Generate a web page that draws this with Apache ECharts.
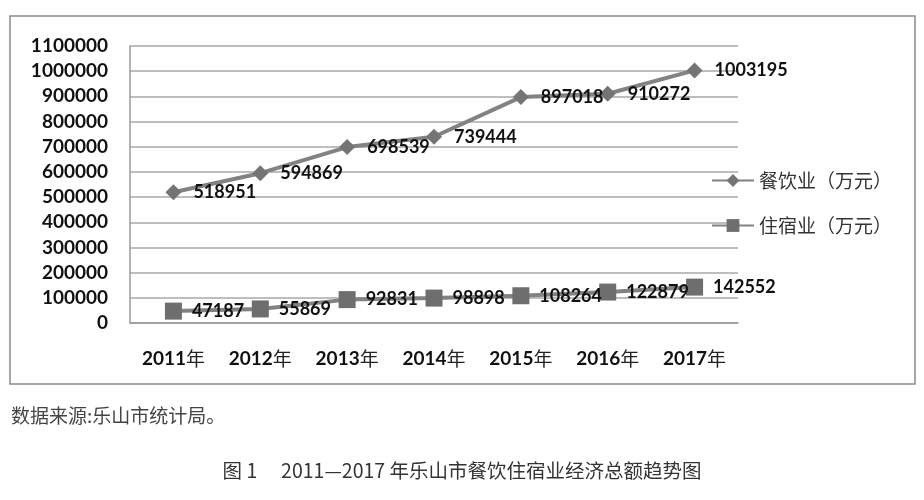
<!DOCTYPE html>
<html><head><meta charset="utf-8">
<script src="https://cdn.jsdelivr.net/npm/echarts@6/dist/echarts.min.js"></script>
<style>html,body{margin:0;padding:0;background:#fff}#c{width:924px;height:500px}</style>
</head><body><div id="c"></div>
<script>
const categories = ['2011年','2012年','2013年','2014年','2015年','2016年','2017年'];
const cateringName = '餐饮业（万元）';
const lodgingName = '住宿业（万元）';
const cateringValues = [518951, 594869, 698539, 739444, 897018, 910272, 1003195];
const lodgingValues = [47187, 55869, 92831, 98898, 108264, 122879, 142552];
const yMin = 0, yMax = 1100000, yStep = 100000;
const sourceText = '数据来源:乐山市统计局。';
const captionText = '图 1　 2011—2017 年乐山市餐饮住宿业经济总额趋势图';

const numFont = 'Lato';
const cjkFont = '"Noto Sans CJK SC"';
const chart = echarts.init(document.getElementById('c'), null, {renderer:'canvas'});
chart.setOption({
  animation:false,
  backgroundColor:'#fff',
  grid:{left:130, right:186, top:46, bottom:177, containLabel:false},
  xAxis:{type:'category', data:categories, boundaryGap:true,
    axisLine:{show:true, lineStyle:{color:'#9a9a9a', width:1.5}},
    axisTick:{show:false},
    axisLabel:{interval:0, margin:26, formatter:v=>'{n|'+v.replace('年','')+'}{c|年}',
      rich:{n:{fontFamily:numFont, fontWeight:'bold', fontSize:19, color:'#111'},
            c:{fontFamily:cjkFont, fontSize:19, color:'#222'}}}},
  yAxis:{type:'value', min:yMin, max:yMax, interval:yStep,
    axisLine:{show:true, lineStyle:{color:'#9a9a9a', width:1.5}},
    axisTick:{show:false},
    splitLine:{lineStyle:{color:'#a8a8a8', width:1.5}},
    axisLabel:{margin:22, formatter:v=>String(v), fontFamily:numFont, fontWeight:'bold', fontSize:19, color:'#111'}},
  legend:{orient:'vertical', left:706, top:166, itemGap:26, itemWidth:42, itemHeight:16,
    textStyle:{fontFamily:cjkFont, fontSize:19, color:'#333'},
    data:[cateringName, lodgingName]},
  series:[
    {name:cateringName, type:'line', data:cateringValues, symbol:'diamond', symbolSize:16,
      lineStyle:{color:'#828282', width:4}, itemStyle:{color:'#747474'},
      label:{show:true, position:'right', distance:12, fontFamily:numFont, fontWeight:'bold', fontSize:18, color:'#111'}},
    {name:lodgingName, type:'line', data:lodgingValues, symbol:'rect', symbolSize:17,
      lineStyle:{color:'#828282', width:4}, itemStyle:{color:'#6e6e6e'},
      label:{show:true, position:'right', distance:10, fontFamily:numFont, fontWeight:'bold', fontSize:18, color:'#111'}}
  ],
  graphic:[
    {type:'rect', shape:{x:10, y:16, width:905, height:368}, style:{fill:null, stroke:'#8a8a8a', lineWidth:1.5}, z:-1},
    {type:'text', left:11, top:406, style:{text:sourceText, fontFamily:cjkFont, fontSize:19, fill:'#444'}},
    {type:'text', left:'center', top:461, style:{text:captionText, fontFamily:cjkFont, fontSize:19.5, fill:'#333'}}
  ]
});
</script></body></html>
